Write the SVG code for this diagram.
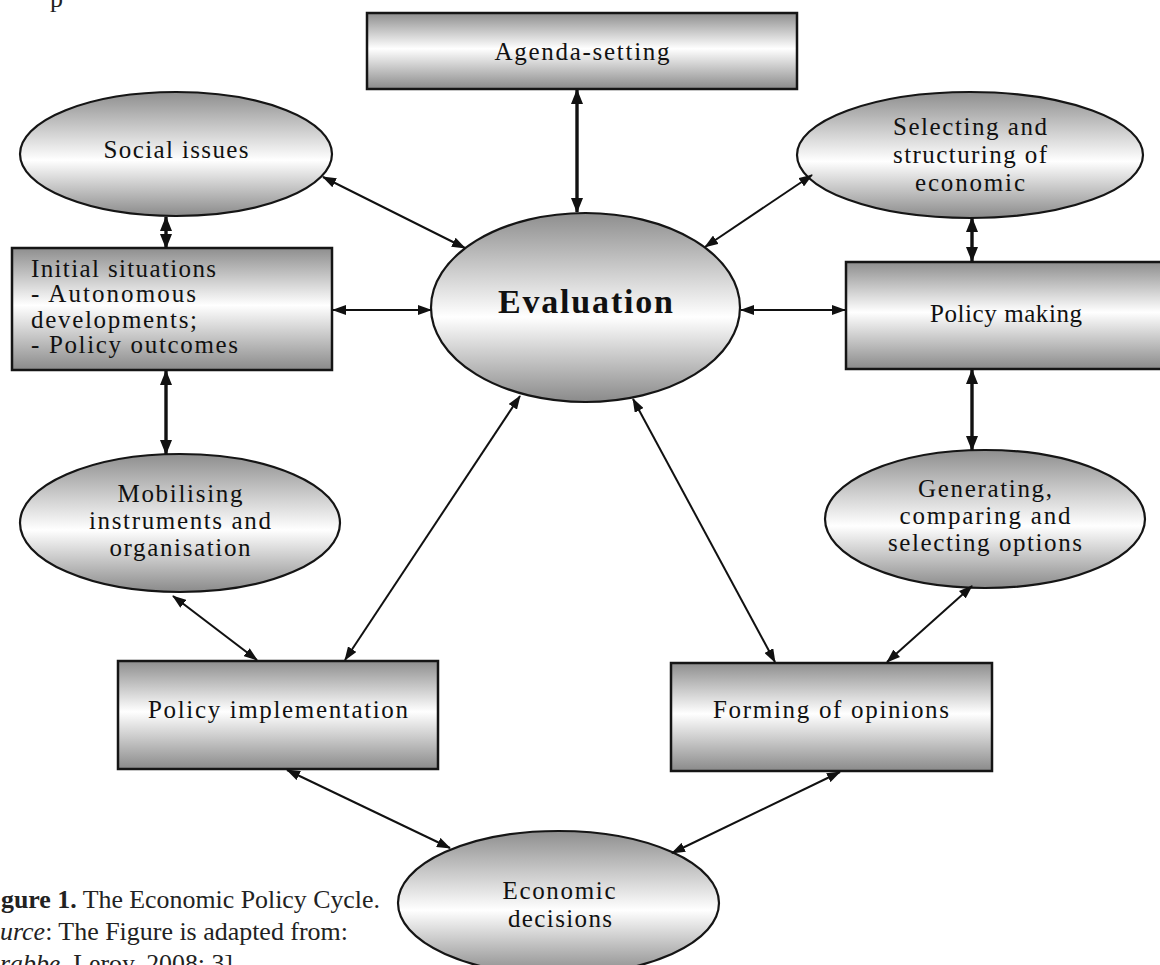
<svg xmlns="http://www.w3.org/2000/svg" width="1160" height="965" viewBox="0 0 1160 965">
<defs>
  <linearGradient id="gRect" x1="0" y1="0" x2="0" y2="1">
    <stop offset="0" stop-color="#8e8e8e"/>
    <stop offset="0.47" stop-color="#ffffff"/>
    <stop offset="1" stop-color="#8a8a8a"/>
  </linearGradient>
  <linearGradient id="gEll" x1="0" y1="0" x2="0" y2="1">
    <stop offset="0" stop-color="#8e8e8e"/>
    <stop offset="0.55" stop-color="#ffffff"/>
    <stop offset="1" stop-color="#8a8a8a"/>
  </linearGradient>
  <marker id="aThin" viewBox="0 0 14 10" refX="13" refY="5" markerWidth="14" markerHeight="10" markerUnits="userSpaceOnUse" orient="auto-start-reverse">
    <path d="M0,0 L14,5 L0,10 z" fill="#111"/>
  </marker>
  <marker id="aThick" viewBox="0 0 15 12" refX="14" refY="6" markerWidth="15" markerHeight="12" markerUnits="userSpaceOnUse" orient="auto-start-reverse">
    <path d="M0,0 L15,6 L0,12 z" fill="#111"/>
  </marker>
</defs>
<style>
  .box { fill: url(#gRect); stroke: #151515; stroke-width: 2.5; }
  .ell { fill: url(#gEll); stroke: #151515; stroke-width: 2.2; }
  .lbl { font-family: "Liberation Serif", "Times New Roman", serif; font-size: 25px; fill: #111; }
  .mid { text-anchor: middle; }
  .big { font-family: "Liberation Serif", "Times New Roman", serif; font-size: 34px; font-weight: bold; fill: #111; text-anchor: middle; }
  .cap { font-family: "Liberation Serif", "Times New Roman", serif; font-size: 26px; fill: #222; }
  .thin { stroke: #111; stroke-width: 2; fill: none; marker-start: url(#aThin); marker-end: url(#aThin); }
  .thick { stroke: #111; stroke-width: 3.4; fill: none; marker-start: url(#aThick); marker-end: url(#aThick); }
</style>
<rect width="1160" height="965" fill="#ffffff"/>

<text class="cap" x="50" y="7">p</text>

<g id="agenda-setting">
  <rect class="box" x="367" y="13" width="430" height="76"/>
  <text class="lbl mid" x="582" y="60" textLength="175">Agenda-setting</text>
</g>

<g id="social-issues">
  <ellipse class="ell" cx="176" cy="154" rx="156" ry="62"/>
  <text class="lbl mid" x="176" y="158" textLength="145">Social issues</text>
</g>

<g id="initial-situations">
  <rect class="box" x="12" y="248" width="320" height="122"/>
  <text class="lbl" x="31" y="277" textLength="185">Initial situations</text>
  <text class="lbl" x="31" y="302" textLength="165">- Autonomous</text>
  <text class="lbl" x="31" y="328" textLength="166">developments;</text>
  <text class="lbl" x="31" y="353" textLength="207">- Policy outcomes</text>
</g>

<g id="evaluation">
  <ellipse class="ell" cx="585.5" cy="307.5" rx="154.5" ry="94.5"/>
  <text class="big" x="585.5" y="313" textLength="175">Evaluation</text>
</g>

<g id="selecting-structuring">
  <ellipse class="ell" cx="970" cy="155" rx="173" ry="63"/>
  <text class="lbl mid" x="970" y="135" textLength="154">Selecting and</text>
  <text class="lbl mid" x="970" y="163" textLength="154">structuring of</text>
  <text class="lbl mid" x="970" y="191" textLength="110">economic</text>
</g>

<g id="policy-making">
  <rect class="box" x="846" y="262" width="320" height="107"/>
  <text class="lbl mid" x="1006" y="322" textLength="152">Policy making</text>
</g>

<g id="generating-options">
  <ellipse class="ell" cx="985" cy="519" rx="160" ry="69"/>
  <text class="lbl mid" x="985" y="497" textLength="134">Generating,</text>
  <text class="lbl mid" x="985" y="524" textLength="171">comparing and</text>
  <text class="lbl mid" x="985" y="551" textLength="194">selecting options</text>
</g>

<g id="mobilising">
  <ellipse class="ell" cx="180" cy="523" rx="160" ry="69"/>
  <text class="lbl mid" x="180" y="502" textLength="125">Mobilising</text>
  <text class="lbl mid" x="180" y="529" textLength="182">instruments and</text>
  <text class="lbl mid" x="180" y="556" textLength="141">organisation</text>
</g>

<g id="policy-implementation">
  <rect class="box" x="118" y="661" width="320" height="108"/>
  <text class="lbl mid" x="278" y="718" textLength="260">Policy implementation</text>
</g>

<g id="forming-opinions">
  <rect class="box" x="671" y="663" width="321" height="108"/>
  <text class="lbl mid" x="831" y="718" textLength="236">Forming of opinions</text>
</g>

<g id="economic-decisions">
  <ellipse class="ell" cx="558.5" cy="903" rx="160.5" ry="72"/>
  <text class="lbl mid" x="559" y="899" textLength="113">Economic</text>
  <text class="lbl mid" x="560" y="927" textLength="104">decisions</text>
</g>

<g id="caption">
  <text class="cap" x="1" y="908" textLength="379" lengthAdjust="spacingAndGlyphs"><tspan font-weight="bold">gure 1.</tspan> The Economic Policy Cycle.</text>
  <text class="cap" x="0" y="940" textLength="348" lengthAdjust="spacingAndGlyphs"><tspan font-style="italic">urce</tspan>: The Figure is adapted from:</text>
  <text class="cap" x="0" y="972" textLength="233" lengthAdjust="spacingAndGlyphs"><tspan font-style="italic">rabbe</tspan>, Leroy, 2008: 3]</text>
</g>

<g id="connectors">
  <line class="thick" x1="577" y1="90" x2="577" y2="212"/>
  <line class="thin" x1="323" y1="177" x2="465" y2="248"/>
  <line class="thin" x1="812" y1="175" x2="705" y2="247"/>
  <line class="thick" x1="166" y1="217" x2="166" y2="248"/>
  <line class="thin" x1="333" y1="310" x2="431" y2="310"/>
  <line class="thin" x1="741" y1="310" x2="845" y2="310"/>
  <line class="thick" x1="972" y1="218" x2="972" y2="261"/>
  <line class="thick" x1="166" y1="371" x2="166" y2="454"/>
  <line class="thick" x1="972" y1="370" x2="972" y2="450"/>
  <line class="thin" x1="173" y1="596" x2="257" y2="660"/>
  <line class="thin" x1="520" y1="396" x2="345" y2="660"/>
  <line class="thin" x1="633" y1="399" x2="775" y2="662"/>
  <line class="thin" x1="972" y1="586" x2="887" y2="662"/>
  <line class="thin" x1="287" y1="770" x2="450" y2="848"/>
  <line class="thin" x1="840" y1="772" x2="672" y2="853"/>
</g>
</svg>
